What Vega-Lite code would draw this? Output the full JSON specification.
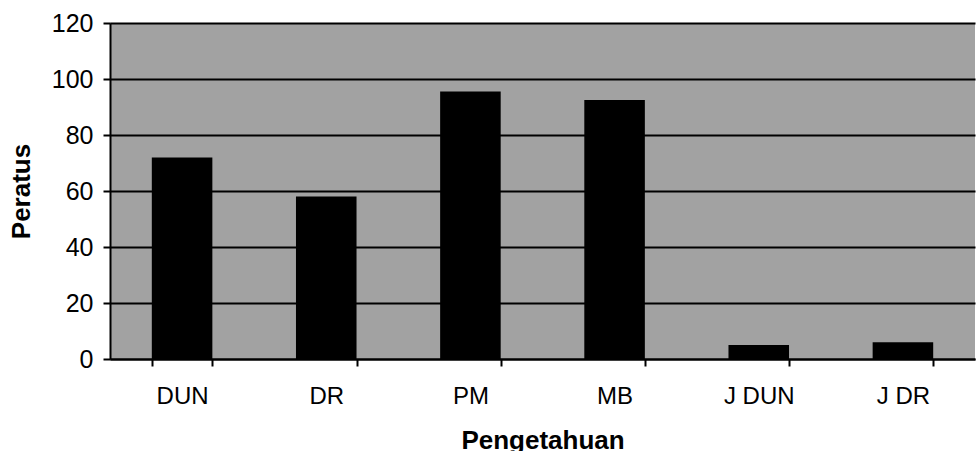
{
  "$schema": "https://vega.github.io/schema/vega-lite/v6.json",
  "width": 865,
  "height": 336,
  "autosize": "none",
  "padding": {"left": 110, "top": 23, "right": 3, "bottom": 92},
  "background": "white",
  "config": {
    "font": "Liberation Sans",
    "view": {"fill": "#a2a2a2", "stroke": null}
  },
  "data": {
    "values": [
      {"kategori": "DUN", "peratus": 72},
      {"kategori": "DR", "peratus": 58},
      {"kategori": "PM", "peratus": 95.5},
      {"kategori": "MB", "peratus": 92.5},
      {"kategori": "J DUN", "peratus": 5},
      {"kategori": "J DR", "peratus": 6}
    ]
  },
  "mark": {"type": "bar", "color": "black"},
  "encoding": {
    "x": {
      "field": "kategori",
      "type": "nominal",
      "sort": null,
      "scale": {"paddingInner": 0.58, "paddingOuter": 0.29},
      "axis": {
        "title": "Pengetahuan",
        "titleFontSize": 26,
        "titleFontWeight": "bold",
        "titleColor": "black",
        "titlePadding": 19,
        "labelAngle": 0,
        "labelFontSize": 24,
        "labelColor": "black",
        "labelPadding": 18,
        "tickBand": "extent",
        "tickColor": "black",
        "tickSize": 7,
        "tickWidth": 2,
        "domainColor": "black",
        "domainWidth": 2,
        "grid": false
      }
    },
    "y": {
      "field": "peratus",
      "type": "quantitative",
      "scale": {"domain": [0, 120], "nice": false},
      "axis": {
        "title": "Peratus",
        "titleFontSize": 26,
        "titleFontWeight": "bold",
        "titleColor": "black",
        "titlePadding": 17,
        "values": [0, 20, 40, 60, 80, 100, 120],
        "labelFontSize": 25,
        "labelColor": "black",
        "labelPadding": 10,
        "tickColor": "black",
        "tickSize": 7,
        "tickWidth": 2,
        "domainColor": "black",
        "domainWidth": 2,
        "grid": true,
        "gridColor": "black",
        "gridWidth": 2,
        "gridOpacity": 1
      }
    }
  }
}
